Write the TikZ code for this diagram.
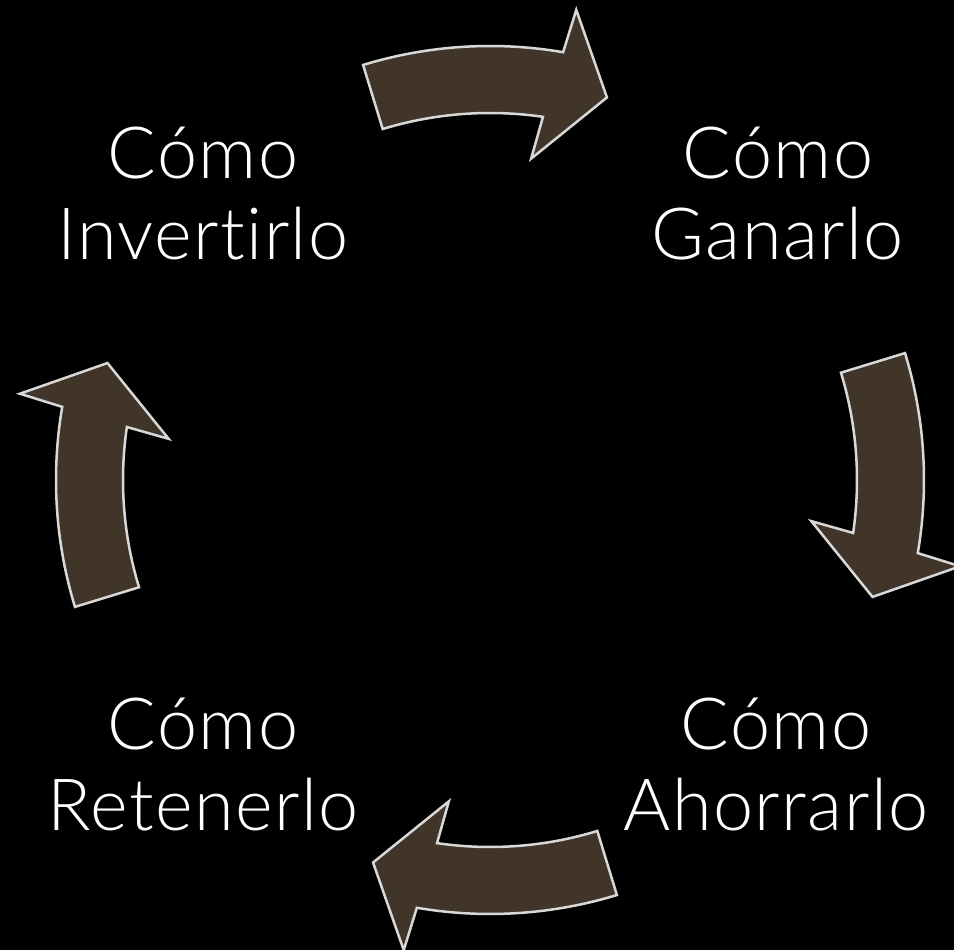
\documentclass[tikz,border=0pt]{standalone}
\usepackage{fontspec}
\setmainfont{Lato}[UprightFont=* Light,Ligatures=NoCommon,LetterSpace=2]
\usepackage{tikz}
\definecolor{arrowbrown}{RGB}{64,53,40}
\definecolor{edgegrey}{RGB}{216,216,216}

\begin{document}
\begin{tikzpicture}[x=1pt,y=1pt,
 	steptext/.style={text=white,align=center,inner sep=0pt,font=\fontsize{72}{81}\selectfont},
 	blockarrow/.style={fill=arrowbrown,draw=edgegrey,line width=2.5pt,line join=miter}]
 	\fill [black] (0,0) rectangle (954,950);
 	\useasboundingbox (0,0) rectangle (954,950);
 	% the four steps
 	\node [steptext] (ganar) at (778,756) {Cómo\\Ganarlo};
 	\node [steptext] (ahorrar) at (776,185) {Cómo\\Ahorrarlo};
 	\node [steptext] (retener) at (203,185) {Cómo\\Retenerlo};
 	\node [steptext] (invertir) at (203,756) {Cómo\\Invertirlo};
 	% curved block arrows round the middle
 	\foreach \r in {0,-90,-180,-270}
 	  \draw [blockarrow,shift={(490,470)},rotate=\r] (107:434) arc [start angle=107,end angle=80.3,radius=434]
 	    -- (79.6:478) -- (73:400) -- (82.7:324) -- (81.7:367)
 	    arc [start angle=81.7,end angle=107,radius=367] -- cycle;
\end{tikzpicture}
\end{document}
